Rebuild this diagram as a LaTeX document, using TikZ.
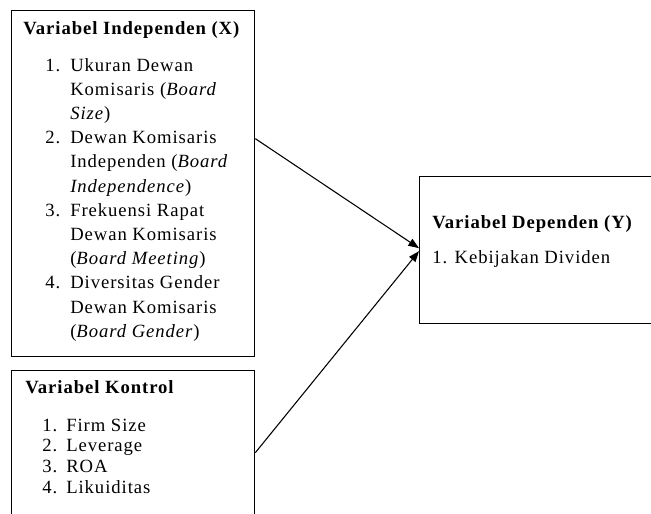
\documentclass[tikz,border=0pt]{standalone}
\usepackage{fontspec}
\setmainfont{Liberation Serif}[LetterSpace=5]
\usetikzlibrary{arrows.meta}
\def\px{0.75pt}
\def\fsz{\fontsize{14pt}{16pt}\selectfont}
\tikzset{
    box/.style={draw, line width=1pt, rectangle, inner sep=0pt, anchor=north west}, % kotak variabel
    head/.style={anchor=base west, inner sep=0pt, font=\fsz\bfseries}, % judul kotak
    item/.style={anchor=base west, inner sep=0pt, font=\fsz}, % baris daftar
    arr/.style={-{Triangle[length=8pt, width=6pt]}, line width=0.8pt} % panah pengaruh
}

\begin{document}
\begin{tikzpicture}[x=\px, y=-\px]
    \useasboundingbox (0,0) rectangle (651,514);
    \clip (0,0) rectangle (651,514);

    \node[box, minimum width=243*\px, minimum height=346*\px] (bx) at (11,10) {};
    \node[box, minimum width=243*\px, minimum height=170*\px] (bk) at (11,370) {};
    \node[box, minimum width=243*\px, minimum height=147*\px] (by) at (419,176) {};

    % Variabel Independen
    \node[head] (tx) at (23,35) {Variabel Independen (X)};
    \foreach \n/\t [count=\i] in {1./Ukuran Dewan, /Komisaris (\textit{Board}, /\textit{Size}),
        2./Dewan Komisaris, /Independen (\textit{Board}, /\textit{Independence}),
        3./Frekuensi Rapat, /Dewan Komisaris, /(\textit{Board Meeting}),
        4./Diversitas Gender, /Dewan Komisaris, /(\textit{Board Gender})} {
        \node[item] (xn\i) at (45, {71+24.2*(\i-1)}) {\n};
        \node[item] (xt\i) at (70, {71+24.2*(\i-1)}) {\t};
    }

    % Variabel Kontrol
    \node[head] (tk) at (25,393) {Variabel Kontrol};
    \foreach \t [count=\i] in {Firm Size, Leverage, ROA, Likuiditas} {
        \node[item] (kn\i) at (42, {431+20.7*(\i-1)}) {\i.};
        \node[item] (kt\i) at (66, {431+20.7*(\i-1)}) {\t};
    }

    % Variabel Dependen
    \node[head] (ty) at (432,228) {Variabel Dependen (Y)};
    \node[item] (yt1) at (432,263) {1. Kebijakan Dividen};

    \draw[arr] ([yshift=45*\px]bx.east) -- ([yshift=2*\px]by.west);
    \draw[arr] ([yshift=3*\px]bk.east) -- ([yshift=-1*\px]by.west);
\end{tikzpicture}
\end{document}
